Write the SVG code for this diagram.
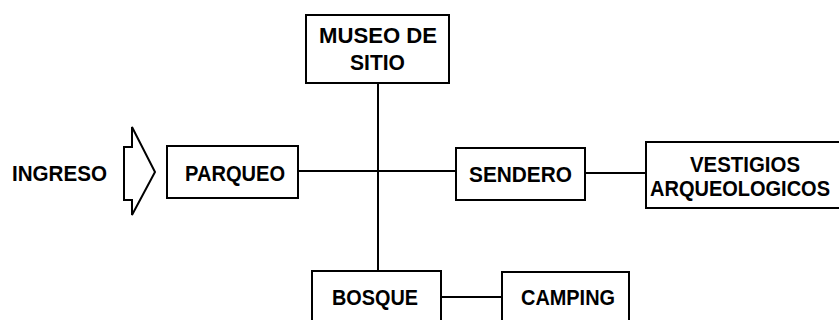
<svg xmlns="http://www.w3.org/2000/svg" width="839" height="320" viewBox="0 0 839 320">
<style>
.box{fill:#fff;stroke:#000;stroke-width:2}
.ln{fill:none;stroke:#000;stroke-width:2}
text{font-family:"Liberation Sans",Arial,sans-serif;font-weight:bold;font-size:22px;fill:#000}
</style>
<rect width="839" height="320" fill="#fff"/>
<g id="connectors">
<line class="ln" x1="378" y1="83" x2="378" y2="271"/>
<line class="ln" x1="298" y1="171" x2="456" y2="171"/>
<line class="ln" x1="585" y1="173" x2="646" y2="173"/>
<line class="ln" x1="441" y1="297" x2="502" y2="297"/>
</g>
<g id="ingreso">
<text x="12" y="181" textLength="95" lengthAdjust="spacingAndGlyphs">INGRESO</text>
<polygon class="ln" points="124,147 132,147 132,127 155,172 132,215 132,200 124,200"/>
</g>
<g id="parqueo">
<rect class="box" x="167" y="146" width="131" height="52"/>
<text x="185" y="181" textLength="100" lengthAdjust="spacingAndGlyphs">PARQUEO</text>
</g>
<g id="museo">
<rect class="box" x="306" y="15" width="143" height="68"/>
<text x="319" y="43" textLength="118" lengthAdjust="spacingAndGlyphs">MUSEO DE</text>
<text x="350" y="70" textLength="55" lengthAdjust="spacingAndGlyphs">SITIO</text>
</g>
<g id="sendero">
<rect class="box" x="456" y="148" width="129" height="52"/>
<text x="469" y="182" textLength="103" lengthAdjust="spacingAndGlyphs">SENDERO</text>
</g>
<g id="vestigios">
<rect class="box" x="646" y="142" width="194" height="66"/>
<text x="690" y="172" textLength="110" lengthAdjust="spacingAndGlyphs">VESTIGIOS</text>
<text x="650" y="196" textLength="180" lengthAdjust="spacingAndGlyphs">ARQUEOLOGICOS</text>
</g>
<g id="bosque">
<rect class="box" x="312" y="271" width="129" height="60"/>
<text x="332" y="305" textLength="86" lengthAdjust="spacingAndGlyphs">BOSQUE</text>
</g>
<g id="camping">
<rect class="box" x="502" y="272" width="127" height="60"/>
<text x="521" y="305" textLength="94" lengthAdjust="spacingAndGlyphs">CAMPING</text>
</g>
</svg>
